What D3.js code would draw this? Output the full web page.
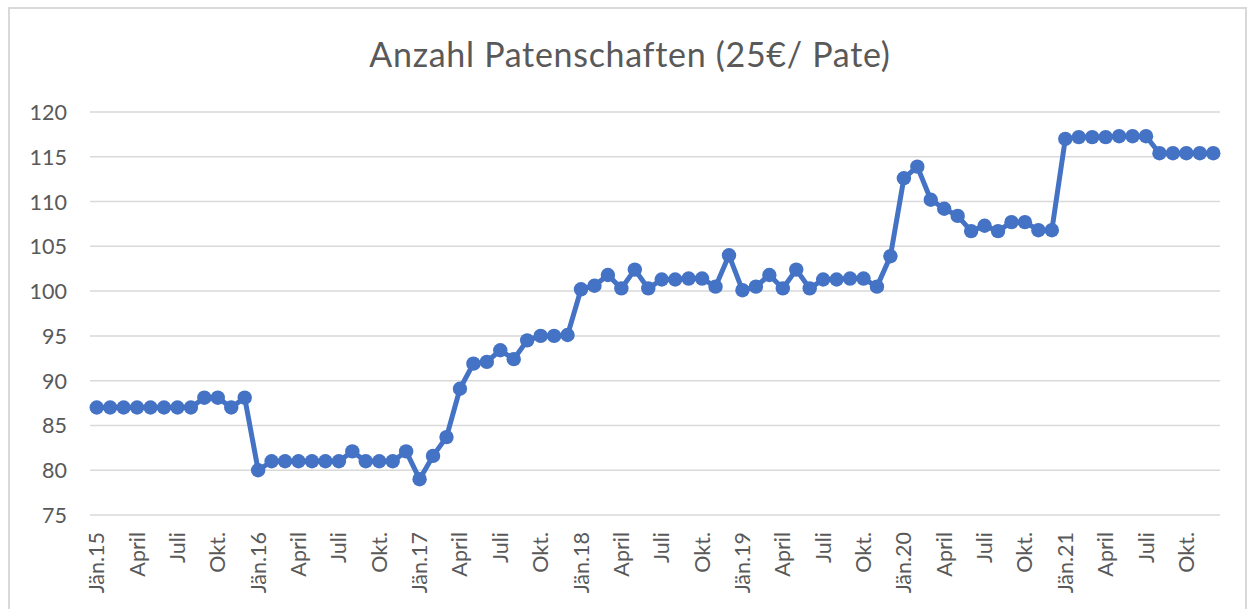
<!DOCTYPE html>
<html>
<head>
<meta charset="utf-8">
<script src="https://cdn.jsdelivr.net/npm/d3@7"></script>
<style>
  html, body { margin: 0; padding: 0; background: #fff; }
  svg { display: block; }
  text { font-family: Lato, "Open Sans", sans-serif; fill: #595959; }
</style>
</head>
<body>
<svg id="chart" width="1250" height="609"></svg>
<script>
const title = "Anzahl Patenschaften (25€/ Pate)";
const years = ["15", "16", "17", "18", "19", "20", "21"];
const monthNames = ["Jän", "Feb", "März", "April", "Mai", "Juni", "Juli", "Aug", "Sept", "Okt.", "Nov", "Dez"];
const values2015 = [87, 87, 87, 87, 87, 87, 87, 87, 88.1, 88.1, 87, 88.1];
const values2016 = [80, 81, 81, 81, 81, 81, 81, 82.1, 81, 81, 81, 82.1];
const values2017 = [79, 81.6, 83.7, 89.1, 91.9, 92.1, 93.4, 92.4, 94.5, 95, 95, 95.1];
const values2018 = [100.2, 100.6, 101.8, 100.3, 102.4, 100.3, 101.3, 101.3, 101.4, 101.4, 100.5, 104];
const values2019 = [100.1, 100.5, 101.8, 100.3, 102.4, 100.3, 101.3, 101.3, 101.4, 101.4, 100.5, 103.9];
const values2020 = [112.6, 113.9, 110.2, 109.2, 108.4, 106.7, 107.3, 106.7, 107.7, 107.7, 106.8, 106.8];
const values2021 = [117.0, 117.2, 117.2, 117.2, 117.3, 117.3, 117.3, 115.4, 115.4, 115.4, 115.4, 115.4];
const yTicks = [75, 80, 85, 90, 95, 100, 105, 110, 115, 120];

const values = [].concat(values2015, values2016, values2017, values2018, values2019, values2020, values2021);
const categories = [];
years.forEach(y => monthNames.forEach((m, i) => categories.push(i === 0 ? "Jän." + y : m)));
const data = values.map((v, i) => ({ cat: i, label: categories[i], value: v }));

const svg = d3.select("#chart");

// outer chart border
svg.append("rect")
  .attr("x", 9).attr("y", 8).attr("width", 1237).attr("height", 620)
  .attr("fill", "none").attr("stroke", "#d9d9d9").attr("stroke-width", 2);

const x = d3.scaleBand().domain(d3.range(values.length)).range([90, 1220]);
const y = d3.scaleLinear().domain([75, 120]).range([515, 112]);

// title
svg.append("text")
  .attr("x", 630).attr("y", 67)
  .attr("text-anchor", "middle")
  .style("font-size", "34px")
  .style("letter-spacing", "0.7px")
  .text(title);

// gridlines
svg.append("g").selectAll("line").data(yTicks).join("line")
  .attr("x1", 90).attr("x2", 1220)
  .attr("y1", d => y(d)).attr("y2", d => y(d))
  .attr("stroke", "#d9d9d9").attr("stroke-width", 1.5);

// y axis labels
const yAxis = d3.axisLeft(y).tickValues(yTicks).tickSize(0).tickPadding(0);
const gy = svg.append("g").attr("transform", "translate(67,0)").call(yAxis);
gy.select(".domain").remove();
gy.selectAll("text").style("font-size", "21.5px").attr("fill", "#595959").attr("dy", "0.35em");

// x axis labels (every 3rd month)
const xAxis = d3.axisBottom(x)
  .tickValues(d3.range(0, values.length, 3))
  .tickFormat(i => categories[i])
  .tickSize(0).tickPadding(0);
const gx = svg.append("g").attr("transform", "translate(0,522)").call(xAxis);
gx.select(".domain").remove();
gx.selectAll("text")
  .style("font-size", "21.5px")
  .attr("fill", "#595959")
  .attr("text-anchor", "end")
  .attr("transform", "rotate(-90)")
  .attr("x", -10).attr("y", 0).attr("dy", "0.35em");

// line
const cx = d => x(d.cat) + x.bandwidth() / 2;
const line = d3.line().x(cx).y(d => y(d.value));
svg.append("path").datum(data)
  .attr("d", line)
  .attr("fill", "none")
  .attr("stroke", "#4472c4")
  .attr("stroke-width", 5)
  .attr("stroke-linejoin", "round");

svg.append("g").selectAll("circle").data(data).join("circle")
  .attr("cx", cx).attr("cy", d => y(d.value))
  .attr("r", 7.2)
  .attr("fill", "#4472c4");
</script>
</body>
</html>
